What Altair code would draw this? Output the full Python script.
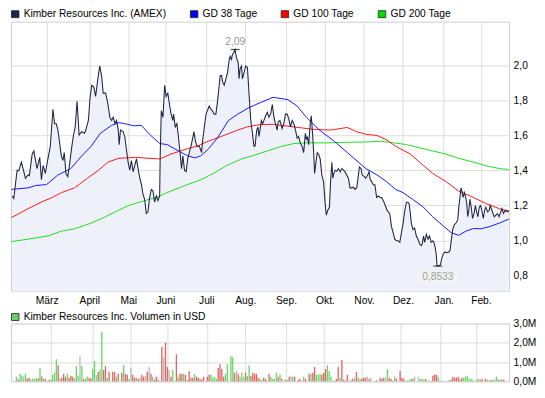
import altair as alt
import pandas as pd

# ---------------- data ----------------
# x = trading-day index (0 = 1 Feb 2010, 268 = 23 Feb 2011)
price_day = [0.5, 1.3, 3.1, 4.0, 5.4, 6.3, 7.6, 9.0, 9.7, 11.2, 12.1, 13.8, 15.3, 16.2, 17.1, 18.3, 19.7, 21.0, 22.4, 23.3,
             24.2, 25.1, 26.0, 26.9, 27.8, 28.5, 29.4, 30.4, 31.3, 32.6, 33.5, 34.4, 35.4, 36.5, 37.9, 39.4, 40.1, 41.5, 42.4, 43.3,
             44.4, 45.4, 46.5, 47.6, 48.6, 49.5, 50.8, 51.9, 53.1, 54.0, 54.9, 55.8, 56.7, 57.6, 58.1, 58.8, 60.2, 61.1, 62.0, 62.9,
             63.8, 64.7, 65.6, 66.5, 67.4, 68.3, 69.2, 70.1, 70.9, 71.8, 72.7, 73.6, 74.5, 75.4, 76.3, 77.2, 78.1, 79.0, 79.9, 80.2,
             80.8, 81.7, 82.6, 83.4, 84.3, 85.2, 86.1, 87.0, 87.4, 88.3, 89.2, 90.0, 90.9, 91.7, 92.4, 93.3, 94.2, 95.0, 95.9, 96.8,
             97.7, 98.4, 99.2, 100.0, 101.3, 102.5, 103.1, 104.0, 104.9, 106.6, 107.5, 108.4, 109.3, 110.2, 111.1, 112.0, 112.5, 113.3, 113.8, 114.7,
             115.6, 116.5, 117.4, 117.9, 118.6, 119.1, 119.7, 120.5, 121.3, 122.2, 122.7, 123.2, 124.0, 124.5, 125.4, 126.3, 127.2, 128.1, 129.0, 129.9,
             130.7, 131.3, 132.2, 132.9, 133.4, 134.0, 134.7, 135.4, 136.1, 137.0, 137.9, 138.8, 139.7, 140.6, 141.5, 142.3, 143.2, 143.8, 144.7, 145.9,
             146.8, 147.7, 148.6, 149.5, 150.4, 151.3, 152.2, 153.1, 154.0, 154.8, 155.7, 156.6, 157.5, 158.4, 159.0, 159.5, 160.2, 161.1, 161.6, 162.3,
             162.9, 163.4, 164.1, 164.8, 165.6, 166.4, 167.3, 168.2, 169.1, 169.7, 170.5, 171.4, 172.0, 172.7, 173.2, 173.8, 174.5, 175.4, 176.3, 177.2,
             178.1, 179.0, 179.8, 180.7, 181.6, 182.5, 183.4, 184.3, 185.2, 186.1, 187.0, 187.5, 188.4, 189.1, 190.2, 190.9, 192.0, 192.7, 193.4, 194.1,
             195.0, 195.9, 196.8, 197.7, 198.6, 199.5, 200.4, 201.2, 202.1, 203.0, 203.9, 204.8, 205.7, 206.6, 207.5, 208.4, 209.3, 210.2, 211.1, 212.0,
             212.9, 213.7, 214.3, 215.0, 215.5, 216.4, 217.3, 218.2, 219.1, 220.0, 220.9, 221.4, 222.1, 222.7, 223.6, 224.5, 225.3, 226.2, 227.1, 228.0,
             228.9, 229.4, 230.3, 231.2, 231.9, 232.8, 233.7, 234.8, 235.7, 236.4, 236.9, 237.8, 238.7, 239.6, 240.5, 241.1, 241.8, 242.3, 242.8, 243.4,
             244.1, 244.6, 245.3, 245.9, 246.4, 247.1, 247.8, 248.5, 249.3, 250.0, 250.7, 251.4, 252.1, 252.8, 253.5, 254.3, 255.0, 255.7, 256.6, 257.5,
             258.0, 260.2, 261.9, 262.8, 264.3, 265.2, 266.1, 267.4, 268.0]
price_val = [1.254, 1.240, 1.401, 1.397, 1.447, 1.410, 1.355, 1.374, 1.370, 1.492, 1.511, 1.410, 1.474, 1.346, 1.428, 1.383, 1.465, 1.538, 1.749, 1.666,
             1.666, 1.630, 1.557, 1.483, 1.456, 1.502, 1.383, 1.364, 1.428, 1.538, 1.602, 1.648, 1.795, 1.602, 1.621, 1.612, 1.630, 1.685, 1.813, 1.886,
             1.877, 1.822, 1.914, 1.996, 1.941, 1.841, 1.841, 1.786, 1.703, 1.685, 1.703, 1.667, 1.685, 1.630, 1.547, 1.630, 1.621, 1.593, 1.520, 1.447,
             1.401, 1.456, 1.392, 1.428, 1.465, 1.410, 1.355, 1.319, 1.264, 1.236, 1.154, 1.163, 1.245, 1.291, 1.282, 1.218, 1.254, 1.227, 1.254, 1.483,
             1.740, 1.703, 1.886, 1.822, 1.841, 1.776, 1.721, 1.685, 1.721, 1.648, 1.667, 1.593, 1.502, 1.410, 1.483, 1.401, 1.392, 1.465, 1.502, 1.538,
             1.584, 1.621, 1.566, 1.538, 1.538, 1.502, 1.575, 1.648, 1.721, 1.767, 1.749, 1.740, 1.721, 1.721, 1.795, 1.886, 1.941, 1.941, 1.905, 1.886,
             1.923, 1.960, 2.033, 2.051, 2.033, 2.060, 2.070, 2.090, 2.042, 2.015, 1.923, 1.978, 1.996, 1.923, 1.960, 1.996, 1.987, 1.831, 1.685, 1.612,
             1.538, 1.538, 1.630, 1.648, 1.593, 1.630, 1.685, 1.667, 1.685, 1.712, 1.731, 1.703, 1.721, 1.776, 1.703, 1.667, 1.630, 1.676, 1.685, 1.639,
             1.667, 1.721, 1.721, 1.694, 1.648, 1.685, 1.667, 1.630, 1.584, 1.593, 1.556, 1.538, 1.501, 1.611, 1.575, 1.593, 1.547, 1.675, 1.712, 1.611,
             1.501, 1.382, 1.446, 1.501, 1.492, 1.465, 1.373, 1.337, 1.208, 1.144, 1.172, 1.190, 1.337, 1.446, 1.355, 1.382, 1.401, 1.395, 1.410, 1.391,
             1.410, 1.401, 1.391, 1.373, 1.355, 1.300, 1.300, 1.304, 1.291, 1.300, 1.373, 1.419, 1.410, 1.373, 1.364, 1.355, 1.373, 1.391, 1.346, 1.337,
             1.318, 1.318, 1.245, 1.254, 1.245, 1.245, 1.227, 1.208, 1.181, 1.163, 1.154, 1.080, 1.044, 1.007, 0.998, 0.998, 0.989, 1.044, 1.099, 1.172,
             1.218, 1.218, 1.209, 1.154, 1.099, 1.062, 1.071, 1.025, 1.007, 0.980, 0.970, 0.980, 1.025, 0.989, 1.035, 1.007, 1.025, 0.989, 0.998, 0.980,
             0.925, 0.8533, 0.8533, 0.861, 0.897, 0.925, 0.934, 0.930, 0.934, 0.943, 0.989, 1.062, 1.090, 1.099, 1.117, 1.190, 1.254, 1.300, 1.282, 1.245,
             1.273, 1.254, 1.218, 1.135, 1.163, 1.236, 1.190, 1.126, 1.154, 1.199, 1.163, 1.135, 1.190, 1.199, 1.172, 1.126, 1.172, 1.190, 1.163, 1.172,
             1.199, 1.135, 1.153, 1.135, 1.181, 1.154, 1.172, 1.163, 1.170]

gd38_day = [0, 9, 13, 19, 25, 32, 38, 43, 48, 54, 58, 61, 66, 70, 75, 80, 84, 90, 95, 99, 102, 106, 111, 117, 122, 128, 134, 141, 149,
            154, 159, 166, 174, 181, 191, 197, 202, 207, 211, 216, 222, 227, 233, 237, 241, 245, 249, 253, 258, 263, 268]
gd38_val = [1.291, 1.300, 1.313, 1.319, 1.373, 1.410, 1.483, 1.538, 1.612, 1.657, 1.672, 1.667, 1.654, 1.657, 1.600, 1.553, 1.547, 1.511,
            1.483, 1.471, 1.483, 1.520, 1.584, 1.685, 1.721, 1.758, 1.786, 1.817, 1.804, 1.767, 1.703, 1.630, 1.566, 1.502, 1.410, 1.374,
            1.337, 1.291, 1.273, 1.236, 1.190, 1.135, 1.080, 1.044, 1.029, 1.053, 1.068, 1.066, 1.080, 1.099, 1.121]

gd100_day = [0, 9, 16, 22, 27, 34, 41, 47, 52, 58, 67, 74, 80, 86, 95, 100, 106, 113, 122, 127, 134, 141, 149, 156, 163, 172, 181, 186,
             191, 197, 202, 207, 215, 222, 227, 234, 241, 249, 256, 263, 268]
gd100_val = [1.130, 1.181, 1.218, 1.245, 1.273, 1.300, 1.355, 1.401, 1.447, 1.469, 1.474, 1.469, 1.465, 1.493, 1.524, 1.538, 1.566, 1.593,
             1.630, 1.648, 1.661, 1.663, 1.652, 1.643, 1.634, 1.630, 1.645, 1.621, 1.606, 1.599, 1.575, 1.538, 1.493, 1.428, 1.383, 1.337,
             1.282, 1.245, 1.209, 1.181, 1.168]

gd200_day = [0, 9, 20, 27, 34, 42, 49, 56, 63, 72, 79, 86, 95, 102, 109, 116, 124, 131, 138, 145, 152, 159, 170, 181, 191, 199, 206,
             213, 220, 227, 234, 241, 249, 256, 263, 268]
gd200_val = [0.993, 1.007, 1.026, 1.053, 1.066, 1.095, 1.126, 1.163, 1.199, 1.227, 1.249, 1.282, 1.319, 1.346, 1.383, 1.428, 1.465, 1.487,
             1.511, 1.535, 1.553, 1.557, 1.557, 1.560, 1.562, 1.566, 1.557, 1.547, 1.529, 1.511, 1.493, 1.469, 1.447, 1.425, 1.410, 1.405]

# daily volume (millions USD) and direction of the day (u = up, d = down, n = unchanged), month by month
vol_day = (list(range(0, 19)) + list(range(19, 42)) +
           list(range(42, 52)) + list(range(53, 57)) + list(range(58, 63)) +
           list(range(63, 83)) +
           list(range(83, 87)) + list(range(88, 104)) +
           list(range(105, 117)) + list(range(118, 126)) +
           list(range(126, 147)) +
           list(range(148, 154)) + list(range(155, 160)) + list(range(161, 169)) +
           list(range(169, 190)) +
           list(range(190, 196)) + list(range(197, 210)) +
           list(range(211, 220)) + list(range(221, 233)) +
           [233, 234] + list(range(238, 252)) +
           list(range(253, 269)))
vol_mio = [0.24, 0.10, 0.39, 0.32, 0.25, 0.39, 0.15, 0.19, 0.10, 0.13, 0.13, 0.17, 0.15, 0.69, 0.25, 0.13, 0.13, 0.03, 0.08,
           0.08, 0.34, 0.44, 1.15, 0.84, 0.19, 0.19, 0.39, 0.24, 0.39, 0.19, 0.29, 0.24, 0.15, 0.79, 0.29, 1.30, 0.79, 0.13, 0.13,
           0.24, 0.19, 0.15,
           0.64, 1.05, 0.34, 0.49, 0.59, 2.56, 0.59, 0.79, 0.19, 0.49, 0.49, 0.49, 0.24, 0.39, 0.44, 0.84, 0.39, 0.34, 0.13,
           0.69, 0.34, 0.19, 0.19, 0.13, 0.19, 0.34, 0.24, 0.29, 0.49, 0.74, 0.39, 0.24, 0.08, 0.24, 0.08, 0.03, 1.80, 1.25, 2.01,
           0.74, 0.59, 0.24, 0.59, 1.40, 0.24, 0.39, 0.39, 0.39, 0.34, 0.08, 0.54, 0.19, 0.19, 0.39, 0.24, 0.19, 0.13, 0.08, 0.24,
           0.24, 0.34, 0.34, 0.19, 0.24, 0.13, 0.69, 0.89, 0.64, 0.24, 0.39, 0.89, 1.30, 1.25, 0.44, 0.54, 0.39, 0.24, 0.44, 0.24,
           0.44, 0.27, 0.84, 0.27, 0.44, 0.39, 0.39, 0.19, 0.13, 0.08, 0.19, 0.13, 0.03, 0.39, 0.24, 0.13, 0.13, 0.44, 0.24, 0.34,
           0.13,
           0.08, 0.08, 0.24, 0.29, 0.24, 0.24, 0.08, 0.13, 0.03, 0.24, 0.13, 0.39, 0.39, 0.44, 0.74, 0.34, 0.34, 0.39, 0.34,
           0.44, 0.64, 0.84, 0.54, 0.24, 0.03, 0.03, 0.13, 0.74, 0.19, 1.10, 0.08, 0.03, 0.34, 0.03, 0.08, 0.13, 0.19, 0.49, 0.19,
           0.13,
           0.13, 0.19, 0.19, 0.24, 0.13, 0.19, 0.03, 0.08, 0.03, 0.19, 0.13, 0.19, 0.19, 0.64, 0.19, 0.13, 0.03, 0.24, 0.13,
           0.54, 0.19, 0.13, 0.03, 0.03, 0.08, 0.13, 0.13, 0.24, 0.24, 0.13, 0.13, 0.08, 0.13, 0.03, 0.03, 0.03, 0.29, 0.34, 0.34,
           0.24,
           0.03, 0.03, 0.08, 0.08, 0.24, 0.19, 0.19, 0.24, 0.08, 0.19, 0.19, 0.24, 0.29, 0.13, 0.13, 0.08,
           0.08, 0.13, 0.08, 0.13, 0.03, 0.13, 0.08, 0.05, 0.08, 0.05, 0.10, 0.25, 0.08, 0.10, 0.10, 0.08]
vol_dir = ("uduunuddu" "uuudududnd"
           "uuuudnddd" "uddduuunu" "duudd"
           "uunduuddu" "dddudduddun"
           "ddudnddnd" "nduddd" "udnddnd" "udu"
           "ddududddudd" "ddddduuuudd" "ddu"
           "uuudnduundu" "udddddu"
           "uddddu" "uuudu" "ddudnu" "ddduudd" "u"
           "dduuudd" "duuuuddd" "udd"
           "dduudndu" "udddndnnu" "nd"
           "ddnudd" "dudddduduu" "dnnu"
           "uudududdd" "uududddddddu"
           "uuuuuuudddd" "uuddu"
           "ududdu" "ddddu" "udu" "uu")

month_day = [19, 42, 63, 83, 105, 126, 148, 169, 190, 211, 233, 253]
month_label = ["März", "April", "Mai", "Juni", "Juli", "Aug.", "Sep.", "Okt.", "Nov.", "Dez.", "Jan.", "Feb."]
price_ticks = [0.8, 1.0, 1.2, 1.4, 1.6, 1.8, 2.0]
vol_ticks = [0, 1, 2, 3]

hi_day, hi_val, hi_text = 120.6, 2.09, "2,09"
lo_day, lo_val, lo_text = 229.8, 0.8533, "0,8533"

legend_labels = ["Kimber Resources Inc. (AMEX)", "GD 38 Tage", "GD 100 Tage", "GD 200 Tage"]
volume_label = "Kimber Resources Inc. Volumen in USD"

# ---------------- styling ----------------
FONT = "Liberation Sans"
FS = 10.3
W, H1, H2 = 500, 270, 58
XDOM = [-0.2, 268.2]
YDOM = [0.713, 2.249]
C_PRICE = "#1d2444"
C_AREA = "#eef1f9"
C_38, C_100, C_200 = "#1a1aff", "#ff1a1a", "#22dd22"
legend_colors = [C_PRICE, "#0000ff", "#ff0000", "#00dd00"]
legend_sq_x = [0.5, 180.1, 271.2, 368.7]

price_df = pd.DataFrame({"day": price_day, "val": price_val})
ma_dfs = [
    (pd.DataFrame({"day": gd38_day, "val": gd38_val}), C_38),
    (pd.DataFrame({"day": gd100_day, "val": gd100_val}), C_100),
    (pd.DataFrame({"day": gd200_day, "val": gd200_val}), C_200),
]
dir_name = {"u": "up", "d": "down", "n": "flat"}
n_vol = min(len(vol_mio), len(vol_dir), len(vol_day))
vol_df = pd.DataFrame({"day": vol_day[:n_vol], "vol": vol_mio[:n_vol],
                       "dir": [dir_name[c] for c in vol_dir[:n_vol]]})

label_expr = "{}[indexof({}, datum.value)]".format(
    "[" + ",".join("'%s'" % m for m in month_label) + "]",
    "[" + ",".join(str(d) for d in month_day) + "]")

x_price = alt.X("day:Q", scale=alt.Scale(domain=XDOM, nice=False, zero=False),
                axis=alt.Axis(values=month_day, labelExpr=label_expr, grid=True, ticks=False,
                              domain=False, labelPadding=5, title=None, labelFlush=False,
                              labelOverlap=False))
y_price = alt.Y("val:Q", scale=alt.Scale(domain=YDOM, nice=False, zero=False),
                axis=alt.Axis(orient="right", values=price_ticks, format=".1f",
                              labelExpr="replace(datum.label, '.', ',')", grid=True, ticks=False,
                              domain=False, labelPadding=4, title=None))

area = alt.Chart(price_df).mark_area(color=C_AREA, clip=True).encode(
    x=x_price, y=y_price, y2=alt.value(H1))
price_line = alt.Chart(price_df).mark_line(color=C_PRICE, strokeWidth=1.05).encode(x=x_price, y=y_price)
ma_layers = [alt.Chart(d).mark_line(color=c, strokeWidth=1).encode(x=x_price, y=y_price) for d, c in ma_dfs]

ann_df = pd.DataFrame({"day": [hi_day, lo_day], "val": [hi_val, lo_val], "txt": [hi_text, lo_text]})
ticks = alt.Chart(ann_df).mark_tick(orient="horizontal", size=9, thickness=1.2, color="#000").encode(
    x=x_price, y=y_price)
hi_txt = alt.Chart(ann_df.iloc[[0]]).mark_text(font=FONT, fontSize=FS, color="#9a9a9a", dy=-8,
                                               baseline="middle").encode(x=x_price, y=y_price, text="txt:N")
lo_box = alt.Chart(ann_df.iloc[[1]]).mark_point(shape="M-1,-0.3H1V0.3H-1Z", size=1560, filled=True,
                                                color="#f3f3f3", opacity=1, yOffset=10.5).encode(x=x_price, y=y_price)
lo_txt = alt.Chart(ann_df.iloc[[1]]).mark_text(font=FONT, fontSize=FS, color="#a0a0a0", dy=10.5,
                                               baseline="middle").encode(x=x_price, y=y_price, text="txt:N")

legend_layers = []
for lab, col, sx in zip(legend_labels, legend_colors, legend_sq_x):
    d = alt.Data(values=[{"label": lab}])
    legend_layers.append(alt.Chart(d).mark_rect(fill=col, stroke="#222", strokeWidth=0.8).encode(
        x=alt.value(sx), x2=alt.value(sx + 7.5), y=alt.value(-11), y2=alt.value(-4)))
    legend_layers.append(alt.Chart(d).mark_text(font=FONT, fontSize=FS, align="left", baseline="middle",
                                                color="#000").encode(
        x=alt.value(sx + 12.2), y=alt.value(-7.3), text="label:N"))

price_chart = alt.layer(area, *ma_layers[::-1], price_line, ticks, hi_txt, lo_box, lo_txt,
                        *legend_layers).properties(width=W, height=H1)

x_vol = alt.X("day:Q", scale=alt.Scale(domain=XDOM, nice=False, zero=False),
              axis=alt.Axis(values=month_day, labels=False, grid=True, ticks=False, domain=False, title=None))
y_vol = alt.Y("vol:Q", scale=alt.Scale(domain=[0, 3], nice=False),
              axis=alt.Axis(orient="right", values=vol_ticks,
                            labelExpr="replace(format(datum.value, '.1f'), '.', ',') + 'M'",
                            grid=True, ticks=False, domain=False, labelPadding=4, title=None))
bars = alt.Chart(vol_df).mark_bar(width=1.3).encode(
    x=x_vol, y=y_vol,
    color=alt.Color("dir:N", scale=alt.Scale(domain=["up", "down", "flat"],
                                             range=["#62d862", "#e06262", "#b8b8b8"]), legend=None))
vd = alt.Data(values=[{"label": volume_label}])
vol_leg = [
    alt.Chart(vd).mark_rect(fill="#66d066", stroke="#222", strokeWidth=0.8).encode(
        x=alt.value(0.5), x2=alt.value(8), y=alt.value(-10), y2=alt.value(-3)),
    alt.Chart(vd).mark_text(font=FONT, fontSize=FS, align="left", baseline="middle", color="#000").encode(
        x=alt.value(12.7), y=alt.value(-6.4), text="label:N"),
]
vol_chart = alt.layer(bars, *vol_leg).properties(width=W, height=H2)

chart = alt.vconcat(price_chart, vol_chart, spacing=33, bounds="flush").properties(
    padding=0, background="#ffffff"
).configure_view(stroke="#cfcfcf").configure_axis(
    labelFont=FONT, labelFontSize=FS, labelColor="#000", gridColor="#dcdcdc", gridWidth=1
)

chart.save("out.html", embed_options={"renderer": "svg", "actions": False})
